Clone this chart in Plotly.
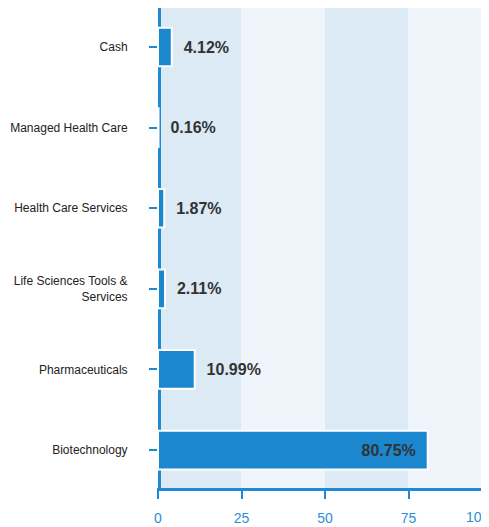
import plotly.graph_objects as go

categories = ["Biotechnology", "Pharmaceuticals", "Life Sciences Tools &<br>Services",
              "Health Care Services", "Managed Health Care", "Cash"]
values = [80.75, 10.99, 2.11, 1.87, 0.16, 4.12]
x_ticks = [0, 25, 50, 75, 100]

BLUE = "#1a87cf"
AXIS_BLUE = "#1f8ad3"
BAND_DARK = "#dbeaf5"
BAND_LIGHT = "#eff5fb"

texts = []
positions = []
for v in values:
    if v > 50:
        texts.append(f"{v:.2f}%\u00a0\u00a0")
        positions.append("inside")
    else:
        texts.append(f"\u00a0\u00a0{v:.2f}%")
        positions.append("outside")

fig = go.Figure()
fig.add_trace(go.Bar(
    y=categories, x=values, orientation="h",
    marker=dict(color=BLUE, line=dict(color="white", width=2)),
    width=0.48,
    text=texts, textposition=positions, insidetextanchor="end",
    textfont=dict(family="Liberation Sans", size=16, color="#333333", weight="bold"),
    cliponaxis=False,
    hoverinfo="skip",
))

shapes = []
for i in range(4):
    shapes.append(dict(type="rect", xref="x", yref="paper",
                       x0=x_ticks[i], x1=x_ticks[i + 1], y0=0, y1=1,
                       fillcolor=BAND_DARK if i % 2 == 0 else BAND_LIGHT,
                       line=dict(width=0), layer="below"))
# left axis line at x = 0 (drawn under the bars)
shapes.append(dict(type="rect", xref="x", yref="paper", xsizemode="pixel", xanchor=0,
                   x0=0, x1=3, y0=0, y1=1,
                   fillcolor=AXIS_BLUE, line=dict(width=0), layer="below"))

# page body has an 8px margin; figure fits inside the window
W, H = 481, 519
L, T, B = 150, 0, 39
plot_w = W - L
px_per_unit = (400.5 - L) / 75.0
xmax = plot_w / px_per_unit

fig.update_layout(
    width=W, height=H,
    margin=dict(l=L, r=0, t=T, b=B),
    paper_bgcolor="white", plot_bgcolor="white",
    showlegend=False,
    shapes=shapes,
    font=dict(family="Liberation Sans"),
    annotations=[dict(text="100", xref="paper", yref="paper",
                      x=100 / xmax, y=0, yshift=-29, xanchor="right", yanchor="middle",
                      showarrow=False, font=dict(size=14, color="#2b8fd6", family="Liberation Sans"))],
    xaxis=dict(range=[0, xmax], tickvals=x_ticks[:-1], ticktext=[str(t) for t in x_ticks[:-1]],
               showgrid=False, zeroline=False,
               showline=True, linecolor=AXIS_BLUE, linewidth=3,
               ticks="outside", ticklen=8, tickwidth=2, tickcolor=AXIS_BLUE,
               tickfont=dict(size=14, color="#2b8fd6"),
               ticklabelstandoff=7,
               layer="below traces", fixedrange=True),
    yaxis=dict(range=[-0.471, 5.484], showgrid=False, zeroline=False,
               showline=True, linecolor="rgba(0,0,0,0)", linewidth=1,
               ticks="outside", ticklen=8, tickwidth=2, tickcolor=AXIS_BLUE,
               tickfont=dict(size=12, color="#222222"),
               ticklabelstandoff=19,
               layer="below traces", fixedrange=True),
)

fig.write_html("out.html")
